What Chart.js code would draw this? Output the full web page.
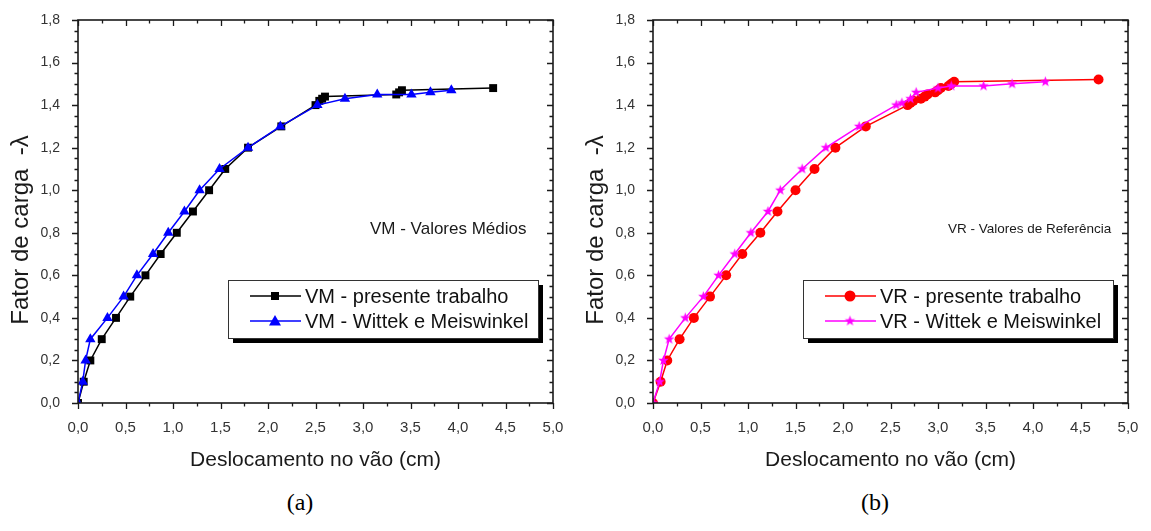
<!DOCTYPE html>
<html><head><meta charset="utf-8">
<script src="https://cdn.jsdelivr.net/npm/chart.js@4.4.0/dist/chart.umd.min.js"></script>
<style>
html,body{margin:0;padding:0;background:#fff;width:1151px;height:531px;overflow:hidden;}
canvas{position:absolute;top:0;}
#ca{left:0;}
#cb{left:575px;}
.cap{position:absolute;top:490px;font-family:"Liberation Serif","Times New Roman",serif;font-size:24px;color:#000;transform:translateX(-50%);line-height:1;}
</style></head><body>
<canvas id="ca" width="575" height="480"></canvas>
<canvas id="cb" width="576" height="480"></canvas>
<div class="cap" style="left:300px">(a)</div>
<div class="cap" style="left:875px">(b)</div>
<script>
// ---- data ----
const xTicks = [0, 0.5, 1.0, 1.5, 2.0, 2.5, 3.0, 3.5, 4.0, 4.5, 5.0];
const yTicks = [0, 0.2, 0.4, 0.6, 0.8, 1.0, 1.2, 1.4, 1.6, 1.8];

const vmPresX = [0, 0.06, 0.13, 0.25, 0.40, 0.55, 0.71, 0.87, 1.04, 1.21, 1.38, 1.55, 1.79, 2.14, 2.50, 2.54, 2.57, 2.60, 3.35, 3.38, 3.41, 4.37];
const vmPresY = [0, 0.1, 0.2, 0.3, 0.4, 0.5, 0.6, 0.7, 0.8, 0.9, 1.0, 1.1, 1.2, 1.3, 1.40, 1.42, 1.43, 1.44, 1.45, 1.46, 1.47, 1.48];

const vmWitX = [0, 0.05, 0.08, 0.13, 0.31, 0.48, 0.62, 0.79, 0.95, 1.12, 1.28, 1.49, 1.79, 2.13, 2.52, 2.81, 3.15, 3.51, 3.71, 3.93];
const vmWitY = [0, 0.1, 0.2, 0.3, 0.4, 0.5, 0.6, 0.7, 0.8, 0.9, 1.0, 1.1, 1.2, 1.3, 1.40, 1.43, 1.45, 1.45, 1.46, 1.47];

const vrPresX = [0, 0.08, 0.15, 0.28, 0.43, 0.60, 0.77, 0.94, 1.13, 1.31, 1.50, 1.70, 1.92, 2.24, 2.68, 2.71, 2.74, 2.82, 2.86, 2.89, 2.97, 3.00, 3.03, 3.11, 3.14, 3.17, 4.69];
const vrPresY = [0, 0.1, 0.2, 0.3, 0.4, 0.5, 0.6, 0.7, 0.8, 0.9, 1.0, 1.1, 1.2, 1.3, 1.40, 1.41, 1.42, 1.43, 1.44, 1.45, 1.46, 1.47, 1.48, 1.49, 1.50, 1.51, 1.52];

const vrWitX = [0, 0.07, 0.11, 0.17, 0.34, 0.53, 0.69, 0.86, 1.03, 1.21, 1.34, 1.57, 1.82, 2.17, 2.56, 2.62, 2.71, 2.77, 3.00, 3.14, 3.48, 3.78, 4.13];
const vrWitY = [0, 0.1, 0.2, 0.3, 0.4, 0.5, 0.6, 0.7, 0.8, 0.9, 1.0, 1.1, 1.2, 1.3, 1.40, 1.41, 1.43, 1.46, 1.48, 1.49, 1.49, 1.50, 1.51];

const labelsA = ["VM - presente trabalho", "VM - Wittek e Meiswinkel"];
const labelsB = ["VR - presente trabalho", "VR - Wittek e Meiswinkel"];
const noteA = "VM - Valores Médios";
const noteB = "VR - Valores de Referência";
const xTitle = "Deslocamento no vão (cm)";
const yTitle = "Fator de carga  -λ";

// ---- helpers ----
function pts(xs, ys){ return xs.map((x,i)=>({x:x, y:ys[i]})); }
function fmt(v){ return (Math.round(v*10)/10).toFixed(1).replace('.', ','); }

function makeStar(color, r){
  const s = Math.ceil(r*2+2);
  const c = document.createElement('canvas');
  c.width = s; c.height = s;
  const g = c.getContext('2d');
  g.fillStyle = color;
  g.beginPath();
  for (let i=0;i<10;i++){
    const a = -Math.PI/2 + i*Math.PI/5;
    const rr = (i%2===0) ? r : r*0.42;
    g.lineTo(s/2 + rr*Math.cos(a), s/2 + rr*Math.sin(a));
  }
  g.closePath(); g.fill();
  return c;
}
const starImg = makeStar('#ff00ff', 5.5);

function drawMarker(ctx, style, color, x, y){
  ctx.fillStyle = color;
  if (style === 'rect'){ ctx.fillRect(x-4, y-4, 8, 8); }
  else if (style === 'triangle'){
    ctx.beginPath(); ctx.moveTo(x, y-6); ctx.lineTo(x+6, y+4.5); ctx.lineTo(x-6, y+4.5); ctx.closePath(); ctx.fill();
  } else if (style === 'circle'){
    ctx.beginPath(); ctx.arc(x, y, 5.5, 0, Math.PI*2); ctx.fill();
  } else {
    ctx.drawImage(starImg, x - starImg.width/2, y - starImg.height/2);
  }
}

const framePlugin = {
  id: 'frame',
  afterDraw(chart, args, o){
    const ctx = chart.ctx;
    const {left, right, top, bottom} = chart.chartArea;
    const sx = chart.scales.x, sy = chart.scales.y;
    ctx.save();
    ctx.strokeStyle = '#1a1a1a';
    ctx.lineWidth = 1.6;
    ctx.strokeRect(left, top, right-left, bottom-top);
    ctx.lineWidth = 1.3;
    ctx.beginPath();
    for (let i=0;i<=20;i++){
      const v = i*0.25, px = Math.round(sx.getPixelForValue(v))+0.5;
      const len = (i%2===0) ? 6 : 3.5;
      ctx.moveTo(px, bottom); ctx.lineTo(px, bottom+len);
      ctx.moveTo(px, top); ctx.lineTo(px, top+len);
    }
    for (let i=0;i<=36;i++){
      const v = i*0.05, py = Math.round(sy.getPixelForValue(v))+0.5;
      const len = (i%4===0) ? 6 : 3.5;
      ctx.moveTo(left, py); ctx.lineTo(left-len, py);
      ctx.moveTo(right, py); ctx.lineTo(right-len, py);
    }
    ctx.stroke();

    // axis titles
    ctx.fillStyle = '#1a1a1a';
    ctx.textAlign = 'center';
    ctx.textBaseline = 'middle';
    ctx.font = '21px "Liberation Sans", Arial, sans-serif';
    ctx.fillText(xTitle, (left+right)/2, 460);
    ctx.save();
    ctx.translate(21, 230);
    ctx.rotate(-Math.PI/2);
    ctx.font = '24px "Liberation Sans", Arial, sans-serif';
    ctx.fillText(yTitle, 0, 0);
    ctx.restore();

    // annotation
    ctx.textAlign = 'left';
    ctx.font = o.noteFont;
    ctx.fillStyle = '#1a1a1a';
    ctx.fillText(o.note, left + o.noteX, 229);

    // legend box with shadow
    const bx = left + 150, by = 280, bw = 310, bh = 58;
    ctx.fillStyle = '#000';
    ctx.fillRect(bx+5, by+5, bw, bh);
    ctx.fillStyle = '#fff';
    ctx.fillRect(bx, by, bw, bh);
    ctx.strokeStyle = '#333'; ctx.lineWidth = 1;
    ctx.strokeRect(bx+0.5, by+0.5, bw, bh);
    o.items.forEach((it, k) => {
      const yy = by + 16 + k*25;
      ctx.strokeStyle = it.color; ctx.lineWidth = 1.5;
      ctx.beginPath(); ctx.moveTo(bx+22, yy); ctx.lineTo(bx+73, yy); ctx.stroke();
      drawMarker(ctx, it.style, it.color, bx+47, yy);
      ctx.fillStyle = '#111';
      ctx.font = '20px "Liberation Sans", Arial, sans-serif';
      ctx.textBaseline = 'middle';
      ctx.fillText(it.label, bx+77, yy+1);
    });
    ctx.restore();
  }
};

function makeChart(id, ds, pad, opts){
  return new Chart(document.getElementById(id), {
    type: 'line',
    data: { datasets: ds },
    options: {
      responsive: false,
      animation: false,
      layout: { padding: { left: 0, top: 20, right: pad, bottom: 0 } },
      plugins: { legend: { display: false }, tooltip: { enabled: false }, frame: opts },
      scales: {
        x: {
          type: 'linear', min: 0, max: 5,
          afterBuildTicks: s => { s.ticks = xTicks.map(v => ({value: v})); },
          afterFit: s => { s.height = 77; },
          grid: { display: false }, border: { display: false },
          ticks: { padding: 8, color: '#333', maxRotation: 0, autoSkip: false,
                   font: { family: '"Liberation Sans Narrow", "Liberation Sans", Arial', size: 15 },
                   callback: v => fmt(v) }
        },
        y: {
          type: 'linear', min: 0, max: 1.8,
          afterBuildTicks: s => { s.ticks = yTicks.map(v => ({value: v})); },
          afterFit: s => { s.width = 78; },
          grid: { display: false }, border: { display: false },
          ticks: { padding: 10, color: '#333', autoSkip: false,
                   font: { family: '"Liberation Sans", Arial', size: 14 },
                   callback: v => fmt(v) }
        }
      }
    },
    plugins: [framePlugin]
  });
}

const lineCommon = { borderWidth: 1.5, tension: 0, fill: false };

makeChart('ca', [
  Object.assign({ label: labelsA[1], data: pts(vmWitX, vmWitY), borderColor: '#0000ff', backgroundColor: '#0000ff',
    pointStyle: 'triangle', pointRadius: 6, pointBorderWidth: 0 }, lineCommon),
  Object.assign({ label: labelsA[0], data: pts(vmPresX, vmPresY), borderColor: '#000', backgroundColor: '#000',
    pointStyle: 'rect', pointRadius: 5.6, pointBorderWidth: 0 }, lineCommon)
], 22, {
  note: noteA, noteX: 292, noteFont: '17px "Liberation Sans", Arial, sans-serif',
  items: [ {label: labelsA[0], color: '#000', style: 'rect'}, {label: labelsA[1], color: '#0000ff', style: 'triangle'} ]
});

makeChart('cb', [
  Object.assign({ label: labelsB[1], data: pts(vrWitX, vrWitY), borderColor: '#ff00ff', backgroundColor: '#ff00ff',
    pointStyle: starImg, pointRadius: 5, pointBorderWidth: 0 }, lineCommon),
  Object.assign({ label: labelsB[0], data: pts(vrPresX, vrPresY), borderColor: '#ff0000', backgroundColor: '#ff0000',
    pointStyle: 'circle', pointRadius: 5, pointBorderWidth: 0 }, lineCommon)
], 23, {
  note: noteB, noteX: 295, noteFont: '13.5px "Liberation Sans", Arial, sans-serif',
  items: [ {label: labelsB[0], color: '#ff0000', style: 'circle'}, {label: labelsB[1], color: '#ff00ff', style: 'star'} ]
});
</script>
</body></html>
